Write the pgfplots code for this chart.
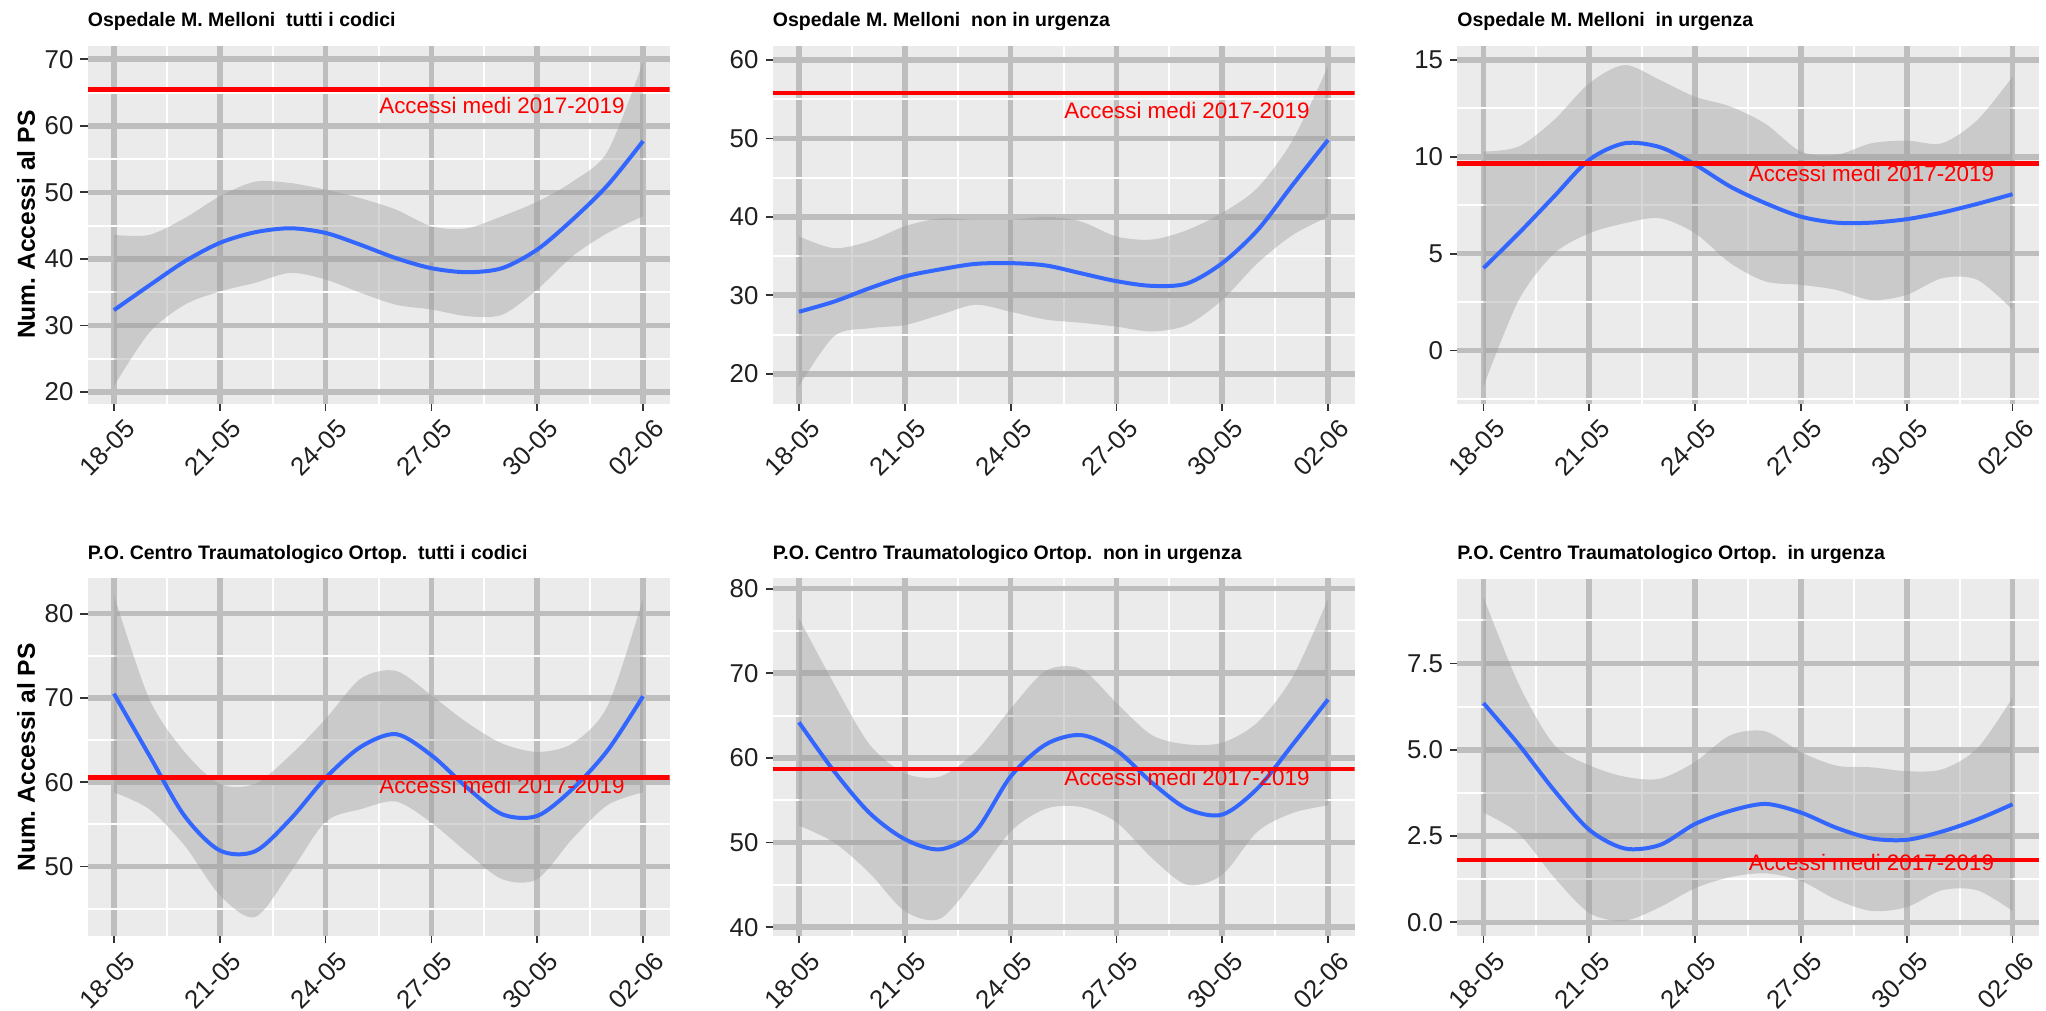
\documentclass[border=0pt]{standalone}
\usepackage{fontspec}
\setmainfont{Liberation Sans}
\usepackage{pgfplots}
\usepackage{pgfplotstable}
\pgfplotsset{compat=1.18}
\usepgfplotslibrary{fillbetween}
\definecolor{ggbg}{HTML}{EBEBEB}
\definecolor{ggmajor}{HTML}{BEBEBE}
\definecolor{ggblue}{HTML}{3366FF}
\definecolor{ggtick}{HTML}{333333}

\pgfplotstableread{
x lo m hi
0 20.9 32.3 43.6
1 28.9 36.0 43.6
2 33.1 39.6 46.1
3 35.1 42.4 49.4
4 36.4 44.0 51.6
5 37.9 44.6 51.4
6 36.9 43.9 50.4
7 34.9 42.1 49.1
8 33.1 40.1 47.4
9 32.4 38.6 44.9
10 31.4 38.0 44.6
11 31.6 38.6 46.4
12 35.4 41.4 48.6
13 40.4 45.9 51.6
14 43.9 51.1 56.2
15 46.4 57.7 69.6
}\pa
\pgfplotstableread{
x lo m hi
0 18.4 27.9 37.5
1 24.8 29.2 36.0
2 25.8 30.9 36.9
3 26.2 32.4 38.8
4 27.5 33.3 39.8
5 28.8 34.0 39.6
6 27.9 34.1 39.6
7 26.9 33.8 40.0
8 26.5 32.8 39.4
9 26.0 31.8 37.5
10 25.4 31.2 37.1
11 26.2 31.5 38.3
12 29.4 34.1 40.5
13 34.1 38.3 43.7
14 37.7 44.1 49.8
15 40.0 49.8 59.2
}\pb
\pgfplotstableread{
x lo m hi
0 -1.86 4.25 10.27
1 2.6 6.05 10.53
2 5.0 7.95 11.9
3 6.05 9.85 13.8
4 6.57 10.7 14.74
5 6.83 10.5 13.97
6 6.05 9.6 13.1
7 4.51 8.46 12.6
8 3.56 7.60 11.7
9 3.39 6.91 10.27
10 3.13 6.60 10.1
11 2.6 6.60 10.7
12 2.87 6.78 10.84
13 3.73 7.12 10.7
14 3.65 7.57 11.9
15 2.1 8.07 14.14
}\pc
\pgfplotstableread{
x lo m hi
0 58.8 70.5 82.2
1 56.8 63.2 69.9
2 52.5 56.0 63.6
3 46.6 51.9 59.8
4 44.0 51.8 59.8
5 49.3 55.6 63.2
6 55.3 60.5 67.5
7 56.8 64.2 72.3
8 57.7 65.7 73.2
9 55.2 63.2 70.3
10 51.7 59.4 67.1
11 48.5 56.2 64.6
12 48.5 56.0 63.6
13 53.3 59.2 64.6
14 57.3 63.8 69.1
15 58.8 70.2 81.8
}\pd
\pgfplotstableread{
x lo m hi
0 52.0 64.2 76.5
1 50.0 58.4 68.7
2 46.4 53.5 61.6
3 41.9 50.4 58.2
4 41.0 49.2 57.8
5 45.7 51.3 60.7
6 51.3 57.8 65.8
7 54.0 61.6 70.3
8 54.2 62.7 70.5
9 52.4 60.9 66.5
10 48.2 57.1 62.7
11 45.0 54.0 61.6
12 46.2 53.3 61.8
13 51.3 56.4 64.2
14 53.5 61.6 69.6
15 54.4 66.9 78.8
}\pe
\pgfplotstableread{
x lo m hi
0 3.18 6.35 9.42
1 2.57 5.15 6.90
2 1.31 3.83 5.15
3 0.27 2.68 4.55
4 0.05 2.14 4.22
5 0.44 2.24 4.16
6 0.99 2.85 4.65
7 1.31 3.23 5.42
8 1.42 3.43 5.53
9 1.20 3.18 4.93
10 0.66 2.74 4.54
11 0.33 2.43 4.49
12 0.44 2.39 4.38
13 0.93 2.63 4.43
14 0.93 2.98 5.04
15 0.33 3.42 6.51
}\pf

\tikzset{redtext/.style={text=red, font=\fontsize{11.2}{13}\selectfont}}
\pgfplotsset{
 gg/.style={
  scale only axis, width=291pt, height=179pt,
  axis background/.style={fill=ggbg},
  axis line style={draw=none},
  xmin=-0.75, xmax=15.75,
  xtick={0,3,6,9,12,15},
  xticklabels={18-05,21-05,24-05,27-05,30-05,02-06},
  minor xtick={1.5,4.5,7.5,10.5,13.5},
  grid=both,
  major grid style={draw=ggmajor, line width=2.8pt},
  minor grid style={draw=white, line width=1pt},
  tick align=outside,
  major tick length=3.5pt,
  minor tick length=0pt,
  tick style={draw=ggtick, line width=0.9pt},
  xtick pos=left, ytick pos=left,
  tick label style={font=\fontsize{12.9}{14}\selectfont, text=black!88},
  xticklabel style={xshift=5pt, yshift=-2pt, rotate=45, anchor=north east, inner sep=1pt},
  title style={at={(0,1)}, anchor=base west, yshift=3.5pt, inner sep=0pt, font=\bfseries\fontsize{9.75}{11}\selectfont},
  ylabel style={at={(axis description cs:-0.1057,0.5)}, anchor=center, font=\bfseries\fontsize{12.3}{14}\selectfont},
 },
 band/.style={draw=none, fill=black!40, fill opacity=0.4},
 blueline/.style={ggblue, line width=2pt, smooth},
 redline/.style={red, line width=2.35pt},
}

\begin{document}
\begin{tikzpicture}

% Panel 1
\begin{axis}[gg, at={(43.75pt,303.65pt)},
  ymin=18.24, ymax=72.04,
  ytick={20,30,40,50,60,70}, yticklabels={20,30,40,50,60,70},
  minor ytick={25,35,45,55,65},
  title={Ospedale M.\ Melloni\ \ tutti i codici},
  ylabel={Num.\ Accessi al PS}]
\addplot[draw=none, smooth, name path=U] table[x=x,y=hi]{\pa};
\addplot[draw=none, smooth, name path=L] table[x=x,y=lo]{\pa};
\addplot[band] fill between[of=U and L];
\addplot[blueline] table[x=x,y=m]{\pa};
\addplot[redline] coordinates {(-0.75,65.5) (15.75,65.5)};
\node[redtext] at (axis cs:11,63.1) {Accessi medi 2017-2019};
\end{axis}

% Panel 2
\begin{axis}[gg, at={(386.25pt,303.65pt)},
  ymin=16.18, ymax=61.82,
  ytick={20,30,40,50,60}, yticklabels={20,30,40,50,60},
  minor ytick={25,35,45,55},
  title={Ospedale M.\ Melloni\ \ non in urgenza}]
\addplot[draw=none, smooth, name path=U] table[x=x,y=hi]{\pb};
\addplot[draw=none, smooth, name path=L] table[x=x,y=lo]{\pb};
\addplot[band] fill between[of=U and L];
\addplot[blueline] table[x=x,y=m]{\pb};
\addplot[redline] coordinates {(-0.75,55.8) (15.75,55.8)};
\node[redtext] at (axis cs:11,53.6) {Accessi medi 2017-2019};
\end{axis}

% Panel 3
\begin{axis}[gg, at={(728.5pt,303.65pt)},
  ymin=-2.75, ymax=15.74,
  ytick={0,5,10,15}, yticklabels={0,5,10,15},
  minor ytick={-2.5,2.5,7.5,12.5},
  title={Ospedale M.\ Melloni\ \ in urgenza}]
\addplot[draw=none, smooth, name path=U] table[x=x,y=hi]{\pc};
\addplot[draw=none, smooth, name path=L] table[x=x,y=lo]{\pc};
\addplot[band] fill between[of=U and L];
\addplot[blueline] table[x=x,y=m]{\pc};
\addplot[redline] coordinates {(-0.75,9.67) (15.75,9.67)};
\node[redtext] at (axis cs:11,9.13) {Accessi medi 2017-2019};
\end{axis}

% Panel 4
\begin{axis}[gg, at={(43.75pt,37.25pt)},
  ymin=41.69, ymax=84.17,
  ytick={50,60,70,80}, yticklabels={50,60,70,80},
  minor ytick={45,55,65,75},
  title={P.O.\ Centro Traumatologico Ortop.\ \ tutti i codici},
  ylabel={Num.\ Accessi al PS}]
\addplot[draw=none, smooth, name path=U] table[x=x,y=hi]{\pd};
\addplot[draw=none, smooth, name path=L] table[x=x,y=lo]{\pd};
\addplot[band] fill between[of=U and L];
\addplot[blueline] table[x=x,y=m]{\pd};
\addplot[redline] coordinates {(-0.75,60.55) (15.75,60.55)};
\node[redtext] at (axis cs:11,59.56) {Accessi medi 2017-2019};
\end{axis}

% Panel 5
\begin{axis}[gg, at={(386.25pt,37.25pt)},
  ymin=38.9, ymax=81.2,
  ytick={40,50,60,70,80}, yticklabels={40,50,60,70,80},
  minor ytick={45,55,65,75},
  title={P.O.\ Centro Traumatologico Ortop.\ \ non in urgenza}]
\addplot[draw=none, smooth, name path=U] table[x=x,y=hi]{\pe};
\addplot[draw=none, smooth, name path=L] table[x=x,y=lo]{\pe};
\addplot[band] fill between[of=U and L];
\addplot[blueline] table[x=x,y=m]{\pe};
\addplot[redline] coordinates {(-0.75,58.7) (15.75,58.7)};
\node[redtext] at (axis cs:11,57.65) {Accessi medi 2017-2019};
\end{axis}

% Panel 6
\begin{axis}[gg, at={(728.5pt,37.25pt)},
  ymin=-0.41, ymax=9.96,
  ytick={0,2.5,5,7.5}, yticklabels={0.0,2.5,5.0,7.5},
  minor ytick={1.25,3.75,6.25,8.75},
  title={P.O.\ Centro Traumatologico Ortop.\ \ in urgenza}]
\addplot[draw=none, smooth, name path=U] table[x=x,y=hi]{\pf};
\addplot[draw=none, smooth, name path=L] table[x=x,y=lo]{\pf};
\addplot[band] fill between[of=U and L];
\addplot[blueline] table[x=x,y=m]{\pf};
\addplot[redline] coordinates {(-0.75,1.81) (15.75,1.81)};
\node[redtext] at (axis cs:11,1.72) {Accessi medi 2017-2019};
\end{axis}

\pgfresetboundingbox
\path[use as bounding box] (0,0) rectangle (1023pt,505.5pt);
\end{tikzpicture}
\end{document}
